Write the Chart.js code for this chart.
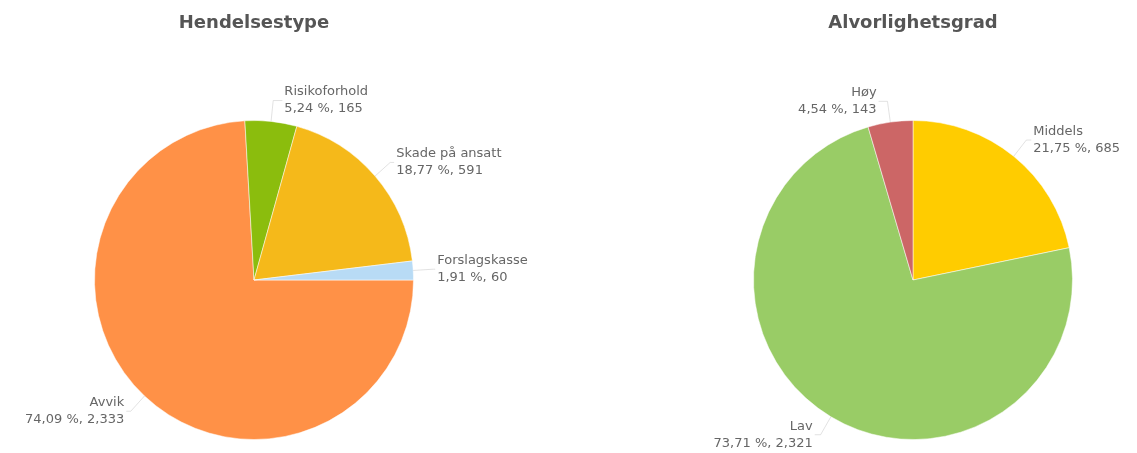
<!DOCTYPE html>
<html>
<head>
<meta charset="utf-8">
<script src="https://cdn.jsdelivr.net/npm/chart.js@4/dist/chart.umd.min.js"></script>
<style>
  html, body { margin: 0; padding: 0; background: #ffffff; }
  body { width: 1137px; height: 453px; position: relative; overflow: hidden; }
  .box { position: absolute; top: 0; height: 453px; }
  #b1 { left: 0; width: 600px; }
  #b2 { left: 600px; width: 537px; }
</style>
</head>
<body>
<div class="box" id="b1"><canvas id="c1"></canvas></div>
<div class="box" id="b2"><canvas id="c2"></canvas></div>
<script>
// ---- Data ----
const typeTitle = 'Hendelsestype';
const typeLabels = ['Avvik', 'Risikoforhold', 'Skade på ansatt', 'Forslagskasse'];
const typeValues = [2333, 165, 591, 60];
const typeColors = ['#ff9147', '#8bbd0d', '#f5b91a', '#b8dbf5'];

const severityTitle = 'Alvorlighetsgrad';
const severityLabels = ['Middels', 'Lav', 'Høy'];
const severityValues = [685, 2321, 143];
const severityColors = ['#ffcc00', '#99cc66', '#cc6666'];

const FONT = '"DejaVu Sans", Verdana, sans-serif';

function fmtPct(v, total) {
  return (v / total * 100).toFixed(2).replace('.', ',') + ' %';
}
function fmtVal(v) {
  return v.toLocaleString('en-US');
}

const outsideLabels = {
  id: 'outsideLabels',
  afterDatasetsDraw(chart) {
    const ctx = chart.ctx;
    const meta = chart.getDatasetMeta(0);
    const ds = chart.data.datasets[0];
    const total = ds.data.reduce((a, b) => a + b, 0);
    ctx.save();
    ctx.font = '13px ' + FONT;
    ctx.textBaseline = 'middle';
    meta.data.forEach((arc, i) => {
      const p = arc.getProps(['x', 'y', 'startAngle', 'endAngle', 'outerRadius'], true);
      const mid = (p.startAngle + p.endAngle) / 2;
      const dx = Math.cos(mid), dy = Math.sin(mid);
      const R = p.outerRadius;
      const px = p.x + R * dx, py = p.y + R * dy;
      const ax = p.x + (R + 20) * dx, ay = p.y + (R + 21) * dy;
      const gap = 4 + 8 * (1 - Math.abs(dx));
      const right = dx >= 0;
      const tx = right ? ax + gap : ax - gap;
      // connector
      ctx.strokeStyle = 'rgba(190,190,190,0.45)';
      ctx.lineWidth = 1;
      ctx.beginPath();
      ctx.moveTo(px, py);
      ctx.lineTo(ax, ay);
      ctx.lineTo(right ? tx - 2 : tx + 2, ay);
      ctx.stroke();
      // text
      ctx.fillStyle = '#666666';
      ctx.textAlign = right ? 'left' : 'right';
      const lines = [chart.data.labels[i], fmtPct(ds.data[i], total) + ', ' + fmtVal(ds.data[i])];
      ctx.fillText(lines[0], tx, ay - 8.5);
      ctx.fillText(lines[1], tx, ay + 8.5);
    });
    ctx.restore();
  }
};

function makePie(id, title, labels, values, colors, rotation, padL, padR) {
  return new Chart(document.getElementById(id), {
    type: 'pie',
    data: {
      labels: labels,
      datasets: [{
        data: values,
        backgroundColor: colors,
        borderColor: 'rgba(255,255,255,0.5)',
        borderWidth: 1,
        hoverOffset: 0,
        offset: 0
      }]
    },
    options: {
      responsive: true,
      maintainAspectRatio: false,
      animation: false,
      rotation: rotation,
      layout: { padding: { top: 0, bottom: 13, left: padL, right: padR } },
      plugins: {
        legend: { display: false },
        tooltip: { enabled: false },
        title: {
          display: true,
          text: title,
          color: '#555555',
          font: { family: FONT, size: 18, weight: 'bold' },
          padding: { top: 13, bottom: 85.4 }
        }
      }
    },
    plugins: [outsideLabels]
  });
}

makePie('c1', typeTitle, typeLabels, typeValues, typeColors, 90, 0, 92);
makePie('c2', severityTitle, severityLabels, severityValues, severityColors, 0, 89, 0);
</script>
</body>
</html>
